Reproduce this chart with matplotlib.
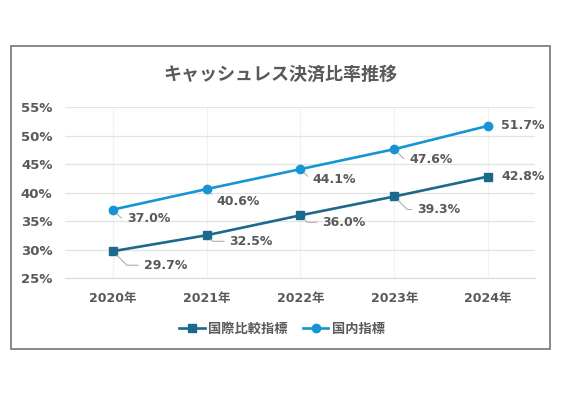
import matplotlib
matplotlib.use("Agg")
import matplotlib.pyplot as plt
from matplotlib.patches import Rectangle

plt.rcParams['font.family'] = ['DejaVu Sans', 'Noto Sans CJK JP']

years = ['2020年', '2021年', '2022年', '2023年', '2024年']
intl = [29.7, 32.5, 36.0, 39.3, 42.8]      # 国際比較指標
domestic = [37.0, 40.6, 44.1, 47.6, 51.7]  # 国内指標

# label offsets in pixels (dx, dy) from each marker
intl_offsets = [(31, -14), (23, -6), (22, -7), (23, -13), (13, 0)]
dom_offsets = [(14, -9), (10, -12), (12, -10), (15, -10), (13, 0)]

text_gray = '#595959'
c_intl = '#1B6A8E'
c_dom = '#1595D3'

fig = plt.figure(figsize=(5.67, 3.98), dpi=100)
ax = fig.add_axes([65 / 567, 1 - 278 / 398, 470 / 567, 171 / 398])

x = list(range(len(years)))
ax.plot(x, intl, color=c_intl, lw=1.9, marker='s', ms=5.5, label='国際比較指標', zorder=3)
ax.plot(x, domestic, color=c_dom, lw=1.9, marker='o', ms=6, label='国内指標', zorder=3)

def label_points(vals, offsets):
    for i, (v, off) in enumerate(zip(vals, offsets)):
        if off[1] == 0:
            ax.annotate(f'{v:.1f}%', (i, v), xytext=off, textcoords='offset pixels',
                        ha='left', va='center', fontsize=9, fontweight='bold', color=text_gray)
        else:
            ax.annotate(f'{v:.1f}%', (i, v), xytext=off, textcoords='offset pixels',
                        ha='left', va='center', fontsize=9, fontweight='bold', color=text_gray,
                        arrowprops=dict(arrowstyle='-', color='#A6A6A6', lw=0.7,
                                        relpos=(0, 0.5), shrinkA=2, shrinkB=4,
                                        connectionstyle='angle,angleA=0,angleB=-45'))

label_points(intl, intl_offsets)
label_points(domestic, dom_offsets)

ax.set_xlim(-0.51, 4.5)
ax.set_ylim(25, 55)
ax.set_xticks(x)
ax.set_xticklabels(years)
ax.set_yticks(range(25, 56, 5))
ax.set_yticklabels([f'{t}%' for t in range(25, 56, 5)])
ax.tick_params(axis='y', length=0, pad=9, labelsize=9.5, labelcolor=text_gray)
ax.tick_params(axis='x', length=0, pad=10, labelsize=9, labelcolor=text_gray)
for lab in ax.get_xticklabels() + ax.get_yticklabels():
    lab.set_fontweight('bold')

ax.grid(axis='y', color='#E3E3E3', lw=0.9)
ax.grid(axis='x', color='#F2F2F2', lw=0.9)
ax.set_axisbelow(True)
for s in ['top', 'right', 'left']:
    ax.spines[s].set_visible(False)
ax.spines['bottom'].set_color('#D9D9D9')

fig.text(280 / 567, 1 - 75 / 398, 'キャッシュレス決済比率推移', ha='center', va='center',
         fontsize=13, fontweight='bold', color=text_gray)

leg = fig.legend(loc='center', bbox_to_anchor=(282 / 567, 1 - 329 / 398), ncol=2,
                 frameon=False, fontsize=9.5, handlelength=1.9, handletextpad=0.25,
                 columnspacing=1.2)
for t in leg.get_texts():
    t.set_color(text_gray)
    t.set_fontweight('bold')

fig.patches.append(Rectangle((11 / 567, 1 - 349 / 398), 539 / 567, 303 / 398,
                             transform=fig.transFigure, fill=False,
                             edgecolor='#7F7F7F', lw=1.3))

fig.savefig('out.png', dpi=100)
